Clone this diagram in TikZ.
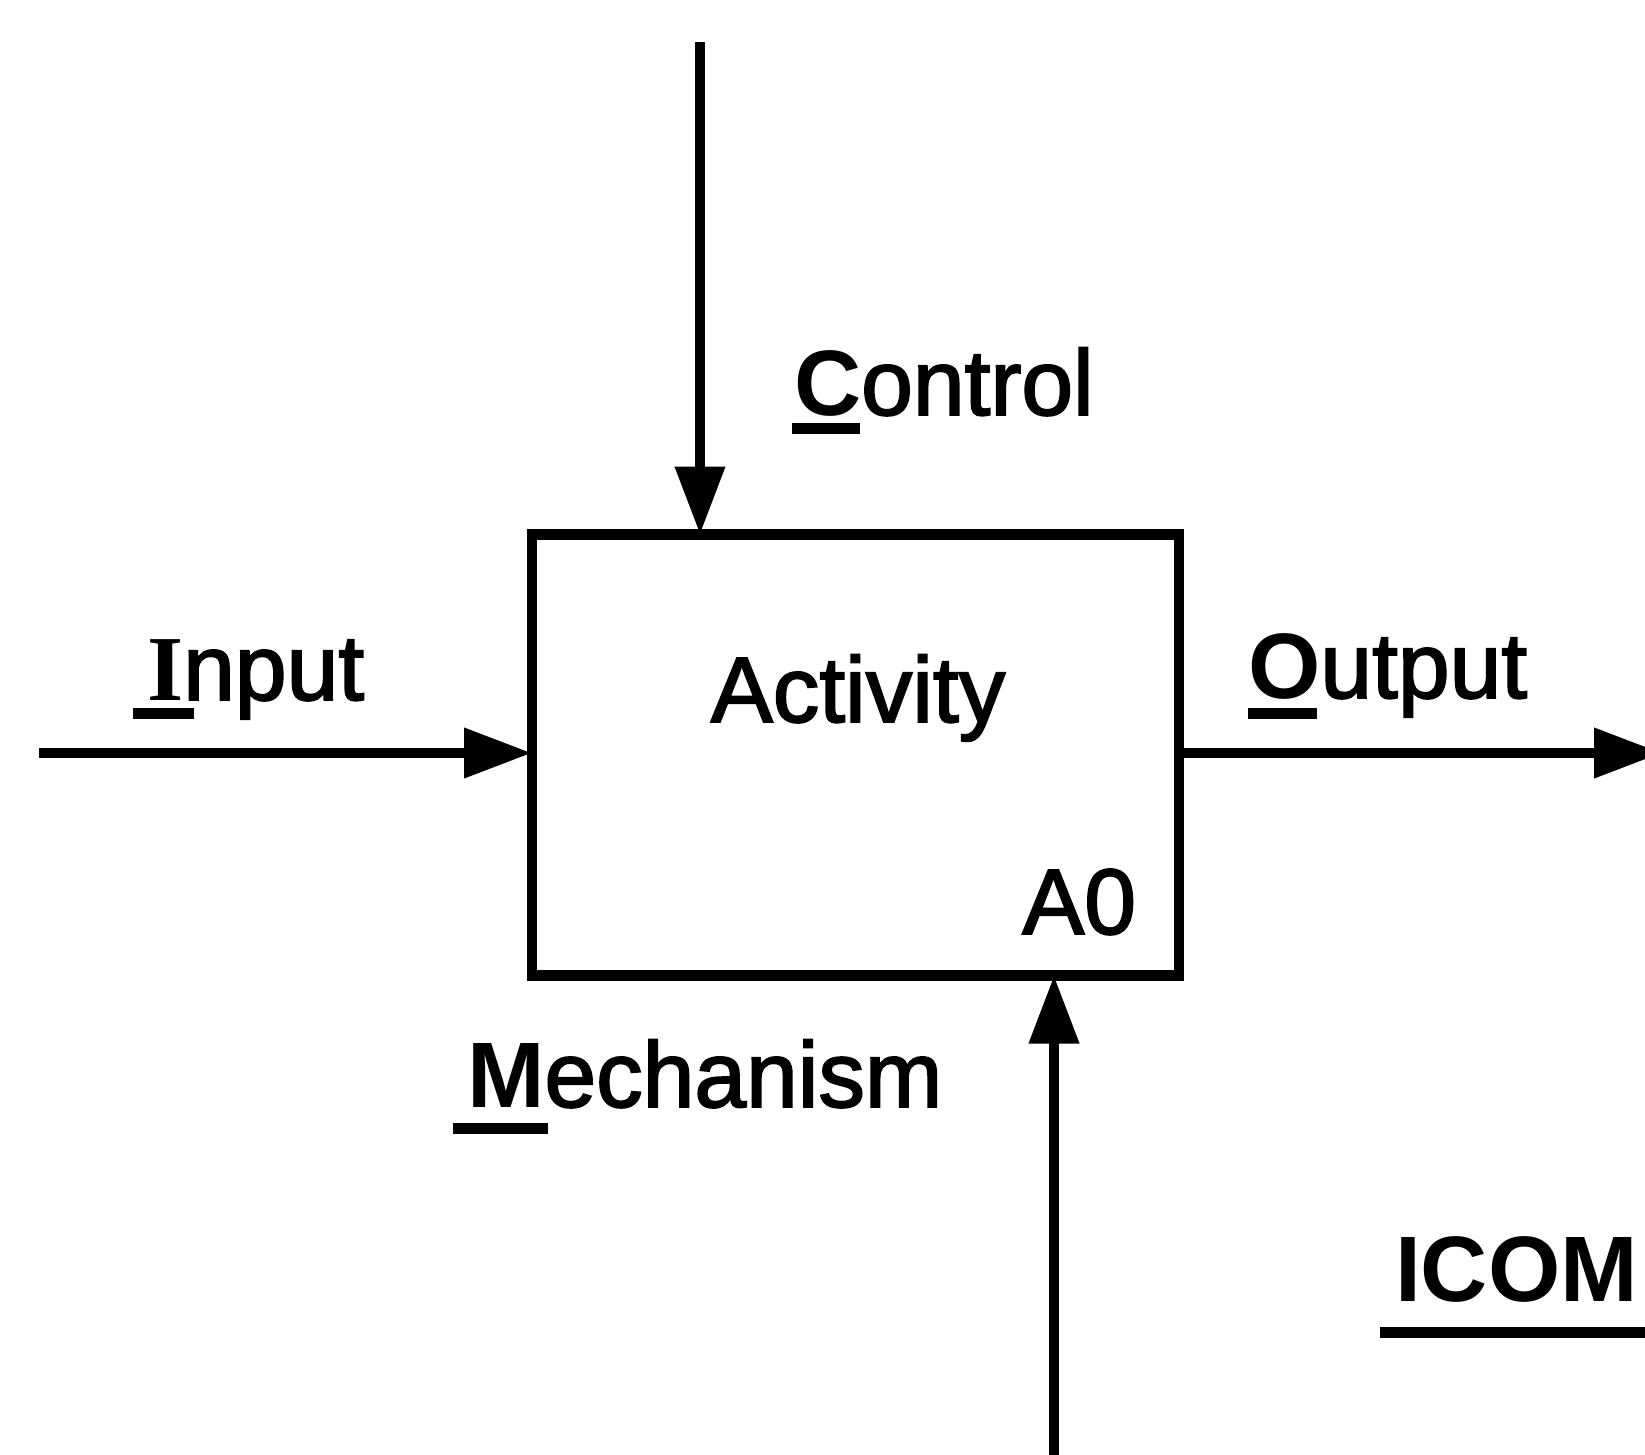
\documentclass[tikz,border=0pt]{standalone}
\usepackage{fontspec}
\setmainfont{Liberation Sans}[FakeBold=2]
\newfontfamily\timesfont{Liberation Serif}
\newfontfamily\heavyfont{Liberation Sans}[FakeBold=2]
\newfontfamily\boldfont{Liberation Sans Bold}
\usetikzlibrary{arrows.meta}
\tikzset{
  lbl/.style={inner sep=0pt, outer sep=0pt, font=\fontsize{93}{100}\heavyfont},
  flow/.style={line width=10.5pt, -{Triangle[length=68pt,width=48pt]}},
  uline/.style={line width=11pt},
  actbox/.style={draw, line width=10.5pt, minimum width=647pt, minimum height=441pt, inner sep=0pt, outer sep=0pt}
}
\begin{document}
\begin{tikzpicture}[x=1pt,y=-1pt]
\useasboundingbox (0,0) rectangle (1645,1454);
% activity box
\node[actbox] (box) at (855.5,755) {};
\node[lbl, anchor=base] (act) at (858,722) {Activity};
\node[lbl, anchor=base east] (a0) at (1136,934) {A0};
% labels
\node[lbl, anchor=base west] (ctl) at (794,415) {{\boldfont C}ontrol};
\node[lbl, anchor=base west] (inp) at (147,700) {{\timesfont\bfseries I}nput};
\node[lbl, anchor=base west] (out) at (1248,698) {{\boldfont O}utput};
\node[lbl, anchor=base west] (mech) at (467,1107) {{\boldfont M}echanism};
\node[lbl, anchor=base west] (icom) at (1395,1301) {{\boldfont ICOM}};
% underlines
\draw[uline] (792,428) -- (860,428);
\draw[uline] (133,713) -- (194,713);
\draw[uline] (1248,713) -- (1317,713);
\draw[uline] (453,1128) -- (548,1128);
\draw[uline] (1380,1332) -- (1660,1332);
% connector ends
\coordinate (c0) at (700,42);
\coordinate (i0) at (39,753);
\coordinate (o1) at (1662,753);
\coordinate (m0) at (1054,1470);
% arrows
\draw[flow] (c0) -- (box.north -| c0);
\draw[flow] (i0) -- (box.west |- i0);
\draw[flow] (box.east |- o1) -- (o1);
\draw[flow] (m0) -- (box.south -| m0);
\end{tikzpicture}
\end{document}
